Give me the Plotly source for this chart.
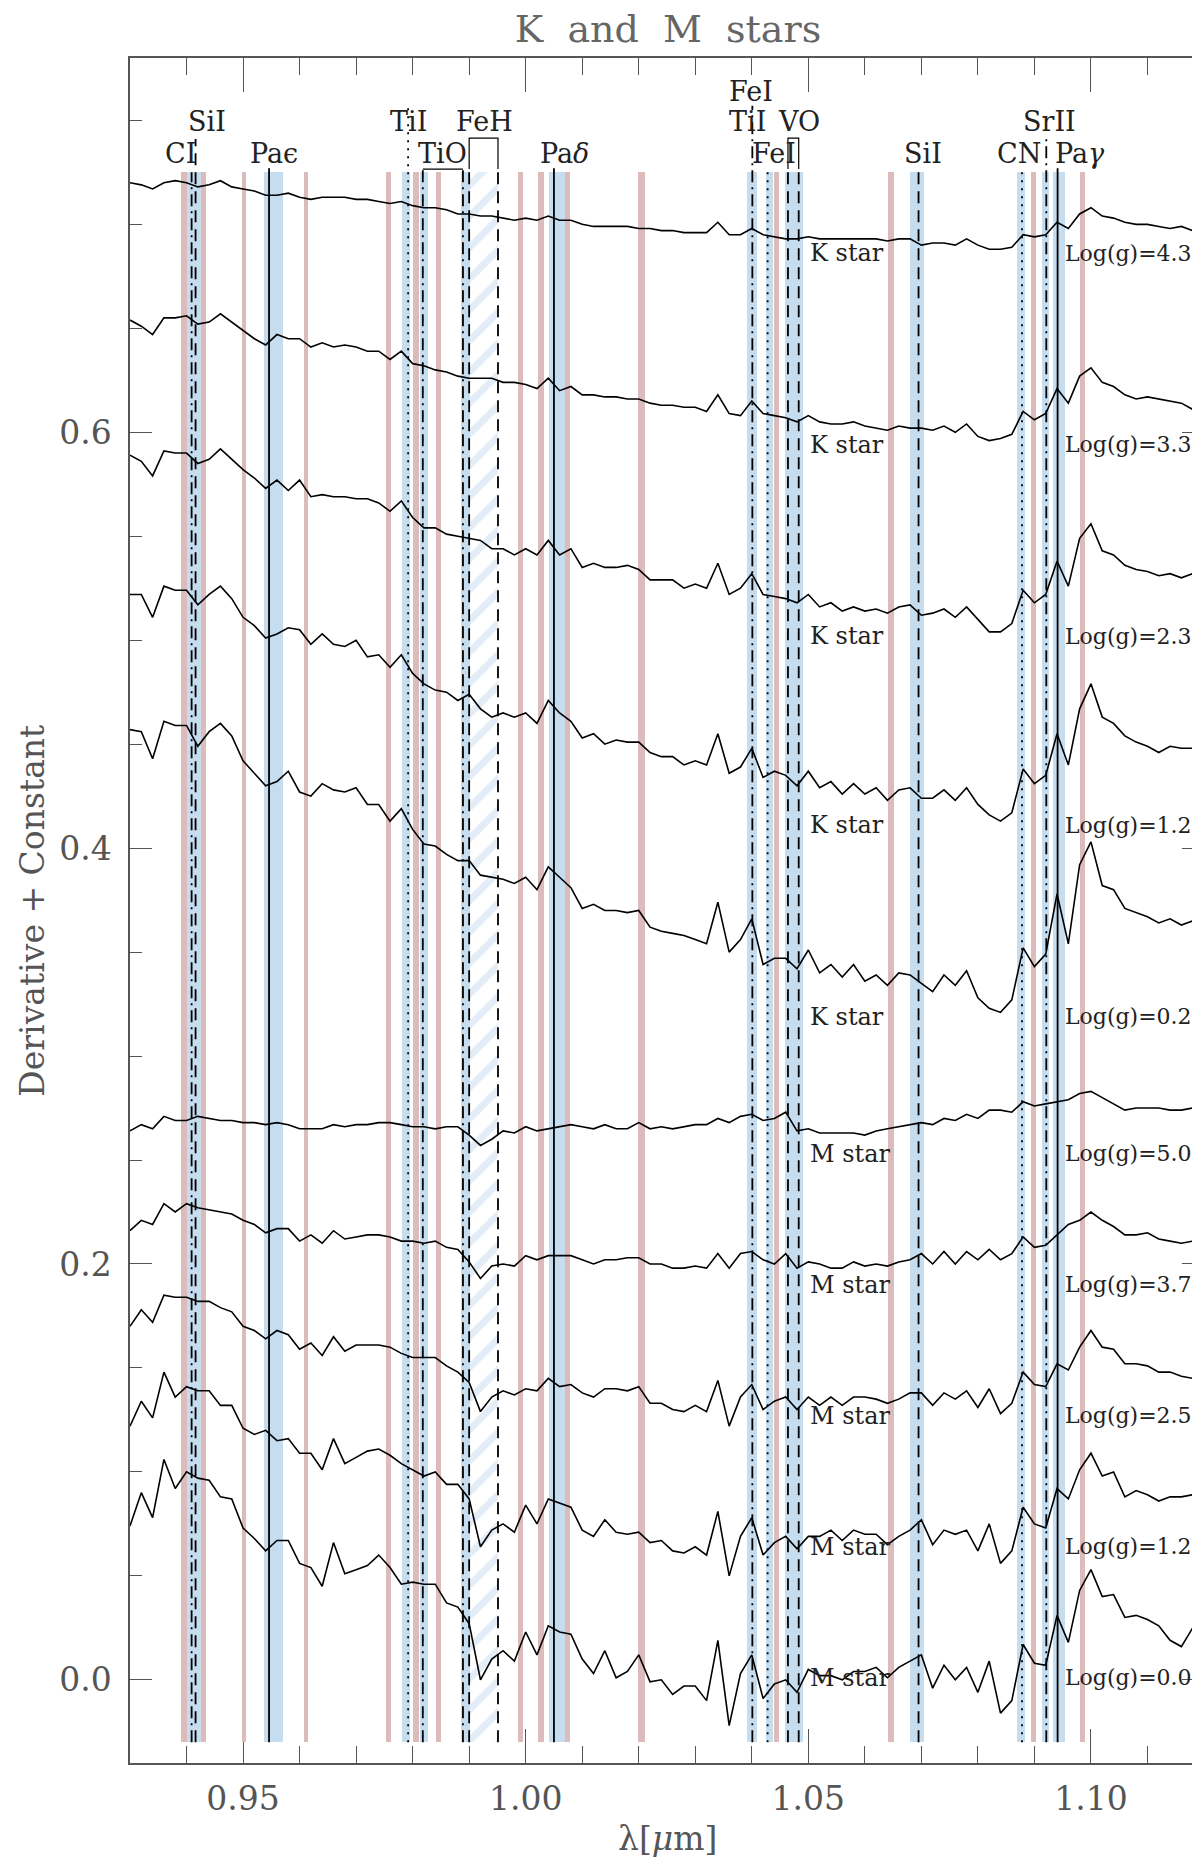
import numpy as np
import plotly.graph_objects as go

# common wavelength grid of the resampled derivative spectra (micron)
wl = np.linspace(0.930, 1.120, 96)

# K stars, top to bottom
k_43 = [0.720, 0.719, 0.717, 0.720, 0.721, 0.720, 0.718, 0.719, 0.721, 0.718, 0.717, 0.716,
        0.714, 0.714, 0.715, 0.713, 0.712, 0.713, 0.713, 0.713, 0.712, 0.712, 0.711, 0.710,
        0.711, 0.709, 0.708, 0.708, 0.707, 0.705, 0.705, 0.704, 0.704, 0.703, 0.702, 0.703,
        0.702, 0.704, 0.702, 0.702, 0.700, 0.699, 0.699, 0.699, 0.699, 0.698, 0.698, 0.697,
        0.697, 0.696, 0.696, 0.696, 0.701, 0.695, 0.695, 0.698, 0.695, 0.694, 0.693, 0.693,
        0.694, 0.693, 0.693, 0.693, 0.693, 0.693, 0.693, 0.692, 0.693, 0.693, 0.690, 0.691,
        0.691, 0.690, 0.693, 0.690, 0.688, 0.688, 0.689, 0.695, 0.694, 0.695, 0.701, 0.698,
        0.705, 0.708, 0.704, 0.703, 0.701, 0.700, 0.700, 0.699, 0.698, 0.699, 0.697, 0.695]
k_33 = [0.654, 0.651, 0.647, 0.655, 0.655, 0.656, 0.652, 0.653, 0.657, 0.653, 0.649, 0.645,
        0.642, 0.647, 0.645, 0.645, 0.641, 0.643, 0.641, 0.642, 0.641, 0.639, 0.639, 0.635,
        0.639, 0.633, 0.632, 0.630, 0.629, 0.627, 0.626, 0.626, 0.626, 0.624, 0.624, 0.623,
        0.621, 0.626, 0.620, 0.622, 0.618, 0.618, 0.617, 0.617, 0.616, 0.616, 0.614, 0.613,
        0.613, 0.612, 0.612, 0.610, 0.618, 0.609, 0.608, 0.615, 0.609, 0.608, 0.607, 0.605,
        0.608, 0.605, 0.604, 0.604, 0.605, 0.603, 0.602, 0.601, 0.603, 0.602, 0.602, 0.601,
        0.603, 0.600, 0.604, 0.598, 0.596, 0.597, 0.599, 0.610, 0.606, 0.609, 0.621, 0.614,
        0.627, 0.631, 0.624, 0.622, 0.618, 0.616, 0.617, 0.616, 0.615, 0.614, 0.611, 0.608]
k_23 = [0.589, 0.586, 0.579, 0.591, 0.590, 0.590, 0.585, 0.587, 0.592, 0.587, 0.582, 0.578,
        0.573, 0.577, 0.572, 0.577, 0.569, 0.570, 0.569, 0.569, 0.568, 0.568, 0.566, 0.562,
        0.567, 0.559, 0.554, 0.554, 0.551, 0.550, 0.549, 0.548, 0.544, 0.544, 0.541, 0.544,
        0.541, 0.548, 0.541, 0.544, 0.535, 0.537, 0.535, 0.535, 0.536, 0.534, 0.529, 0.529,
        0.529, 0.525, 0.527, 0.525, 0.537, 0.522, 0.525, 0.532, 0.522, 0.521, 0.520, 0.518,
        0.522, 0.516, 0.518, 0.514, 0.516, 0.514, 0.515, 0.513, 0.516, 0.517, 0.512, 0.513,
        0.515, 0.511, 0.516, 0.510, 0.504, 0.504, 0.508, 0.524, 0.518, 0.522, 0.538, 0.526,
        0.549, 0.556, 0.543, 0.541, 0.536, 0.534, 0.533, 0.531, 0.532, 0.530, 0.532, 0.521]
k_12 = [0.522, 0.522, 0.511, 0.526, 0.524, 0.524, 0.517, 0.522, 0.526, 0.520, 0.511, 0.507,
        0.501, 0.503, 0.506, 0.505, 0.498, 0.503, 0.498, 0.497, 0.500, 0.492, 0.493, 0.487,
        0.493, 0.484, 0.479, 0.476, 0.475, 0.471, 0.474, 0.467, 0.463, 0.465, 0.463, 0.465,
        0.460, 0.471, 0.465, 0.461, 0.453, 0.455, 0.450, 0.452, 0.451, 0.451, 0.446, 0.444,
        0.444, 0.440, 0.442, 0.440, 0.455, 0.436, 0.439, 0.448, 0.434, 0.437, 0.435, 0.430,
        0.437, 0.429, 0.432, 0.426, 0.431, 0.426, 0.429, 0.423, 0.428, 0.429, 0.424, 0.424,
        0.428, 0.423, 0.429, 0.421, 0.416, 0.413, 0.417, 0.438, 0.431, 0.435, 0.455, 0.440,
        0.467, 0.479, 0.463, 0.460, 0.454, 0.451, 0.449, 0.446, 0.449, 0.448, 0.448, 0.437]
k_02 = [0.457, 0.456, 0.443, 0.461, 0.459, 0.459, 0.449, 0.456, 0.460, 0.454, 0.442, 0.436,
        0.430, 0.432, 0.437, 0.427, 0.425, 0.431, 0.428, 0.427, 0.429, 0.421, 0.421, 0.413,
        0.419, 0.409, 0.402, 0.401, 0.397, 0.394, 0.394, 0.387, 0.386, 0.385, 0.383, 0.386,
        0.380, 0.391, 0.386, 0.381, 0.371, 0.373, 0.370, 0.370, 0.369, 0.370, 0.362, 0.360,
        0.359, 0.358, 0.356, 0.354, 0.374, 0.350, 0.356, 0.366, 0.344, 0.347, 0.347, 0.342,
        0.351, 0.340, 0.344, 0.338, 0.344, 0.336, 0.339, 0.334, 0.340, 0.339, 0.335, 0.331,
        0.339, 0.334, 0.341, 0.328, 0.323, 0.321, 0.327, 0.352, 0.343, 0.349, 0.378, 0.354,
        0.392, 0.403, 0.382, 0.380, 0.371, 0.369, 0.367, 0.364, 0.366, 0.363, 0.365, 0.346]

# M stars, top to bottom
m_50 = [0.264, 0.267, 0.265, 0.271, 0.269, 0.269, 0.271, 0.270, 0.269, 0.269, 0.268, 0.268,
        0.267, 0.268, 0.267, 0.265, 0.265, 0.265, 0.267, 0.266, 0.267, 0.267, 0.268, 0.268,
        0.267, 0.266, 0.266, 0.265, 0.266, 0.266, 0.262, 0.257, 0.260, 0.264, 0.263, 0.266,
        0.264, 0.265, 0.266, 0.267, 0.266, 0.265, 0.267, 0.265, 0.265, 0.268, 0.265, 0.266,
        0.265, 0.266, 0.267, 0.267, 0.270, 0.268, 0.271, 0.272, 0.269, 0.270, 0.273, 0.264,
        0.265, 0.263, 0.263, 0.263, 0.263, 0.262, 0.264, 0.265, 0.266, 0.267, 0.268, 0.267,
        0.270, 0.269, 0.272, 0.270, 0.274, 0.274, 0.273, 0.278, 0.276, 0.277, 0.278, 0.279,
        0.282, 0.283, 0.280, 0.277, 0.274, 0.275, 0.275, 0.275, 0.274, 0.274, 0.275, 0.274]
m_37 = [0.216, 0.221, 0.219, 0.229, 0.225, 0.229, 0.227, 0.226, 0.225, 0.224, 0.221, 0.219,
        0.215, 0.217, 0.217, 0.211, 0.214, 0.210, 0.216, 0.212, 0.213, 0.214, 0.214, 0.213,
        0.211, 0.211, 0.210, 0.211, 0.208, 0.207, 0.201, 0.193, 0.199, 0.200, 0.199, 0.204,
        0.202, 0.204, 0.204, 0.204, 0.202, 0.200, 0.202, 0.202, 0.203, 0.203, 0.200, 0.200,
        0.198, 0.198, 0.199, 0.198, 0.205, 0.198, 0.205, 0.206, 0.202, 0.200, 0.205, 0.198,
        0.201, 0.200, 0.198, 0.198, 0.201, 0.199, 0.200, 0.199, 0.201, 0.202, 0.205, 0.200,
        0.206, 0.200, 0.206, 0.202, 0.207, 0.202, 0.205, 0.213, 0.208, 0.209, 0.214, 0.219,
        0.221, 0.225, 0.221, 0.218, 0.214, 0.214, 0.215, 0.212, 0.211, 0.210, 0.211, 0.210]
m_25 = [0.170, 0.178, 0.172, 0.185, 0.184, 0.184, 0.182, 0.182, 0.179, 0.177, 0.170, 0.168,
        0.164, 0.168, 0.166, 0.159, 0.162, 0.156, 0.165, 0.158, 0.161, 0.161, 0.161, 0.160,
        0.157, 0.155, 0.155, 0.155, 0.151, 0.148, 0.143, 0.129, 0.136, 0.139, 0.137, 0.140,
        0.139, 0.145, 0.141, 0.142, 0.138, 0.136, 0.140, 0.140, 0.139, 0.141, 0.133, 0.133,
        0.130, 0.129, 0.132, 0.129, 0.144, 0.122, 0.136, 0.142, 0.130, 0.134, 0.136, 0.130,
        0.136, 0.132, 0.136, 0.132, 0.136, 0.136, 0.135, 0.133, 0.135, 0.138, 0.138, 0.132,
        0.138, 0.135, 0.139, 0.131, 0.140, 0.128, 0.133, 0.148, 0.142, 0.141, 0.152, 0.149,
        0.160, 0.168, 0.160, 0.159, 0.152, 0.152, 0.151, 0.148, 0.148, 0.146, 0.145, 0.143]
m_12 = [0.122, 0.134, 0.126, 0.148, 0.136, 0.141, 0.139, 0.139, 0.132, 0.132, 0.121, 0.118,
        0.120, 0.115, 0.116, 0.109, 0.109, 0.101, 0.116, 0.104, 0.107, 0.110, 0.111, 0.108,
        0.104, 0.101, 0.098, 0.100, 0.094, 0.094, 0.087, 0.064, 0.072, 0.075, 0.071, 0.084,
        0.075, 0.087, 0.085, 0.083, 0.072, 0.069, 0.077, 0.071, 0.070, 0.071, 0.066, 0.067,
        0.062, 0.061, 0.064, 0.060, 0.081, 0.050, 0.069, 0.078, 0.060, 0.066, 0.069, 0.063,
        0.069, 0.069, 0.072, 0.067, 0.072, 0.070, 0.070, 0.065, 0.069, 0.072, 0.077, 0.065,
        0.072, 0.070, 0.072, 0.062, 0.075, 0.056, 0.062, 0.083, 0.075, 0.073, 0.092, 0.087,
        0.101, 0.109, 0.098, 0.100, 0.088, 0.091, 0.089, 0.086, 0.088, 0.088, 0.089, 0.081]
m_00 = [0.074, 0.090, 0.078, 0.106, 0.092, 0.100, 0.097, 0.096, 0.088, 0.087, 0.073, 0.068,
        0.062, 0.067, 0.067, 0.056, 0.054, 0.045, 0.066, 0.051, 0.053, 0.055, 0.060, 0.054,
        0.046, 0.047, 0.046, 0.046, 0.037, 0.035, 0.027, 0.000, 0.010, 0.014, 0.009, 0.023,
        0.012, 0.026, 0.023, 0.022, 0.010, 0.003, 0.014, 0.001, 0.004, 0.012, -0.001, 0.000,
        -0.007, -0.003, -0.003, -0.010, 0.019, -0.022, 0.003, 0.012, -0.009, -0.002, 0.000, -0.006,
        0.005, 0.002, 0.002, 0.000, 0.004, 0.004, 0.006, 0.001, 0.006, 0.009, 0.012, -0.004,
        0.007, 0.000, 0.006, -0.006, 0.009, -0.016, -0.010, 0.017, 0.008, 0.007, 0.031, 0.018,
        0.043, 0.053, 0.040, 0.041, 0.030, 0.031, 0.029, 0.026, 0.019, 0.016, 0.025, 0.023]

spectra = [k_43, k_33, k_23, k_12, k_02, m_50, m_37, m_25, m_12, m_00]
star_type = ["K star"] * 5 + ["M star"] * 5
log_g = ["4.3", "3.3", "2.3", "1.2", "0.2", "5.0", "3.7", "2.5", "1.2", "0.0"]
tag_y = [0.686, 0.594, 0.502, 0.411, 0.319, 0.253, 0.190, 0.127, 0.064, 0.001]

# feature windows (micron)
pink_lo = [0.9390, 0.9425, 0.9498, 0.9607, 0.9752, 0.9801, 0.9842, 0.9986, 1.0022, 1.0069,
           1.0199, 1.0440, 1.0641, 1.0894, 1.0980]
pink_hi = [0.9400, 0.9435, 0.9505, 0.9615, 0.9761, 0.9811, 0.9851, 0.9996, 1.0032, 1.0079,
           1.0211, 1.0448, 1.0651, 1.0903, 1.0989]
blue_lo = [0.9401, 0.9537, 0.9782, 0.9813, 0.9886, 1.0041, 1.0392, 1.0425, 1.0459, 1.0679,
           1.0870, 1.0913, 1.0932]
blue_hi = [0.9425, 0.9570, 0.9796, 0.9827, 0.9902, 1.0069, 1.0409, 1.0437, 1.0490, 1.0704,
           1.0884, 1.0925, 1.0954]
feh_lo, feh_hi = 0.9902, 0.9951
band_bottom, band_top = -0.030, 0.725

# line identifications
line_wl = [0.9409, 0.9416, 0.9546, 0.9792, 0.9818, 0.9889, 0.9900, 0.9951, 1.0050,
           1.0401, 1.0428, 1.0464, 1.0483, 1.0695, 1.0878, 1.0921, 1.0941]
line_style = ["dashdot", "dash", "solid", "dot", "dashdot", "dashdot", "dash", "dash", "solid",
              "dashdot", "dot", "dash", "dash", "dash", "dot", "dashdot", "solid"]
line_top = [0.725, 0.741, 0.727, 0.756, 0.727, 0.727, 0.727, 0.727, 0.727,
            0.757, 0.725, 0.727, 0.727, 0.725, 0.725, 0.743, 0.727]

name_text = ["CI", "SiI", "Pa\u03f5", "TiI", "TiO", "FeH", "Pa<i>\u03b4</i>", "FeI", "TiI",
             "FeI", "VO", "SiI", "CN", "SrII", "Pa<i>\u03b3</i>"]
name_wl = [0.9389, 0.9437, 0.9555, 0.9793, 0.9853, 0.9928, 1.0069, 1.0399, 1.0393,
           1.0440, 1.0484, 1.0703, 1.0872, 1.0926, 1.0980]
name_row = [2, 1, 2, 1, 2, 1, 2, 0, 1, 2, 1, 2, 2, 1, 2]
row_y = [0.764, 0.7495, 0.7343]

# brackets over molecular bands: (start, end, height)
brackets = [(0.9818, 0.9889, 0.7266), (0.9900, 0.9951, 0.7415), (1.0464, 1.0483, 0.7415)]

PINK = "#dcbbbb"
BLUE = "#c6dcef"
GREY = "#555555"
FONT = "DejaVu Serif"
DASHES = {"solid": "solid", "dash": "12px,7px", "dot": "2px,6px", "dashdot": "12px,5px,2px,5px"}

fig = go.Figure()

for lo, hi, col in [(pink_lo, pink_hi, PINK), (blue_lo, blue_hi, BLUE)]:
    lo, hi = np.array(lo), np.array(hi)
    fig.add_trace(go.Bar(
        x=(lo + hi) / 2, width=hi - lo,
        y=[band_top - band_bottom] * len(lo), base=band_bottom,
        marker=dict(color=col, line_width=0), hoverinfo="skip"))

fig.add_trace(go.Bar(
    x=[(feh_lo + feh_hi) / 2], width=[feh_hi - feh_lo],
    y=[band_top - band_bottom], base=band_bottom,
    marker=dict(color="white", line_width=0,
                pattern=dict(shape="/", fgcolor=BLUE, bgcolor="white", size=22, solidity=0.32)),
    hoverinfo="skip"))

for spec in spectra:
    fig.add_trace(go.Scatter(x=wl, y=spec, mode="lines",
                             line=dict(color="black", width=1.6)))

for a, b, h in brackets:
    fig.add_trace(go.Scatter(x=[a, a, b, b], y=[0.7266, h, h, 0.7266], mode="lines",
                             line=dict(color="black", width=1.2)))

for x, st, top in zip(line_wl, line_style, line_top):
    fig.add_shape(type="line", x0=x, x1=x, y0=band_bottom, y1=top, layer="above",
                  line=dict(color="black", width=1.8, dash=DASHES[st]))

for txt, x, r in zip(name_text, name_wl, name_row):
    fig.add_annotation(x=x, y=row_y[r], text=txt, showarrow=False,
                       font=dict(family=FONT, size=27, color="#222"),
                       xanchor="center", yanchor="middle")

for st, g, y in zip(star_type, log_g, tag_y):
    fig.add_annotation(x=1.0500, y=y, text=st, showarrow=False, xanchor="left",
                       yanchor="middle", font=dict(family=FONT, size=24, color="#222"))
    fig.add_annotation(x=1.0950, y=y, text="Log(g)=" + g, showarrow=False, xanchor="left",
                       yanchor="middle", font=dict(family=FONT, size=22, color="#222"))

fig.add_annotation(x=-0.0911, y=0.5, xref="paper", yref="paper", text="Derivative + Constant",
                   textangle=-90, showarrow=False, xanchor="center", yanchor="middle",
                   font=dict(family=FONT, size=33, color=GREY))
fig.add_annotation(x=0.5, y=-0.0445, xref="paper", yref="paper", text="\u03bb[<i>\u03bc</i>m]",
                   showarrow=False, xanchor="center", yanchor="middle",
                   font=dict(family=FONT, size=33, color=GREY))

axis_common = dict(showgrid=False, zeroline=False, showline=True, linecolor=GREY, linewidth=1.5,
                   mirror="ticks", ticks="inside", tickcolor=GREY, tickwidth=1.3,
                   tickfont=dict(family=FONT, size=33, color=GREY), layer="below traces")

fig.update_xaxes(range=[0.93, 1.12], tick0=0.95, dtick=0.05, tickformat=".2f", ticklen=34,
                 ticklabelstandoff=6,
                 minor=dict(dtick=0.01, tick0=0.93, ticklen=17, ticks="inside",
                            tickcolor=GREY, tickwidth=1.3),
                 **axis_common)
fig.update_yaxes(range=[-0.04, 0.78], tick0=0, dtick=0.2, tickformat=".1f", ticklen=22,
                 ticklabelstandoff=10,
                 minor=dict(dtick=0.05, tick0=0, ticklen=12, ticks="inside",
                            tickcolor=GREY, tickwidth=1.3),
                 **axis_common)

fig.update_layout(
    width=1200, height=1860,
    margin=dict(l=122, r=2, t=50, b=105),
    paper_bgcolor="white", plot_bgcolor="white",
    barmode="overlay", bargap=0, showlegend=False,
    title=dict(text="K  and  M  stars", x=0.55, xanchor="center", y=0.996, yanchor="top",
               yref="container", font=dict(family=FONT, size=38, color="#666")),
)

fig.write_html("out.html")
